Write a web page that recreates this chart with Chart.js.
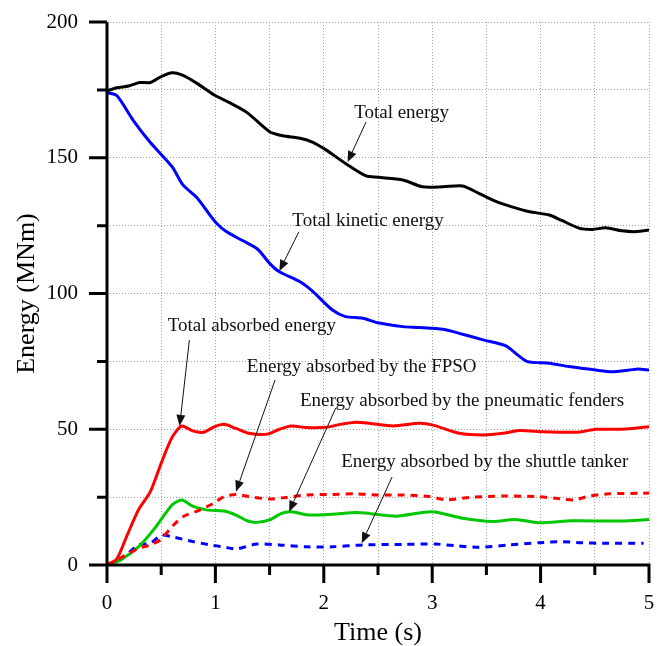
<!DOCTYPE html>
<html>
<head>
<meta charset="utf-8">
<script src="https://cdn.jsdelivr.net/npm/chart.js@4/dist/chart.umd.min.js"></script>
<style>
  body { margin: 0; background: #fff; }
  canvas { display: block; }
</style>
</head>
<body>
<canvas id="myChart" width="662" height="646"></canvas>
<script>
  // time (s) / energy (MNm) for each curve
  const tTotal = [0, 0.09, 0.2, 0.3, 0.4, 0.5, 0.6, 0.69, 0.83, 0.99, 1.13, 1.29, 1.5, 1.62, 1.78, 1.9, 2.02, 2.2, 2.39, 2.5, 2.73, 2.91, 3.1, 3.28, 3.43, 3.56, 3.65, 3.83, 3.9, 4.08, 4.2, 4.36, 4.48, 4.6, 4.75, 4.88, 5];
  const eTotal = [174.6, 175.8, 176.4, 177.7, 177.7, 179.9, 181.3, 180.5, 177.4, 173.1, 170.3, 166.7, 159.6, 158.1, 157.2, 155.7, 152.9, 147.9, 143.3, 142.8, 141.8, 139.3, 139.3, 139.6, 136.9, 134.4, 133, 130.8, 130.1, 128.9, 126.8, 124, 123.6, 124.2, 123.1, 122.8, 123.4];

  const tKinetic = [0, 0.09, 0.24, 0.4, 0.6, 0.7, 0.83, 0.95, 1.01, 1.1, 1.25, 1.39, 1.5, 1.59, 1.78, 1.9, 2.08, 2.2, 2.36, 2.5, 2.73, 2.88, 3.1, 3.28, 3.47, 3.68, 3.79, 3.88, 4.08, 4.26, 4.51, 4.66, 4.82, 4.9, 5];
  const eKinetic = [174, 172.9, 163.9, 155.6, 146.7, 140, 135.3, 128.9, 125.9, 122.8, 119.5, 116.3, 111.1, 108, 104.3, 100.7, 93.9, 91.5, 90.9, 89.2, 87.8, 87.5, 86.8, 85, 82.9, 80.7, 77.3, 74.9, 74.3, 73.1, 71.8, 71.2, 71.8, 72.2, 71.8];

  const tAbsorbed = [0, 0.09, 0.18, 0.29, 0.4, 0.5, 0.6, 0.69, 0.79, 0.89, 0.99, 1.08, 1.19, 1.31, 1.48, 1.59, 1.7, 1.84, 2.02, 2.15, 2.3, 2.42, 2.64, 2.88, 3.0, 3.25, 3.47, 3.65, 3.8, 4.02, 4.29, 4.38, 4.51, 4.75, 5];
  const eAbsorbed = [0, 2.2, 10.4, 20.3, 27, 37.5, 47, 51.2, 49.4, 48.9, 50.9, 51.8, 50.3, 48.5, 48.2, 50, 51.2, 50.6, 50.7, 51.8, 52.6, 52.2, 51.2, 52.2, 51.6, 48.5, 47.9, 48.5, 49.5, 49.1, 48.9, 49.1, 50, 50, 50.9];

  const tFpso = [0, 0.12, 0.29, 0.4, 0.49, 0.6, 0.7, 0.86, 0.99, 1.08, 1.19, 1.31, 1.5, 1.65, 1.84, 2.08, 2.3, 2.5, 2.73, 2.97, 3.13, 3.34, 3.65, 3.96, 4.14, 4.31, 4.45, 4.63, 4.91, 5];
  const eFpso = [0, 2.5, 6.1, 7.4, 9.2, 14.1, 17.8, 20.3, 22.9, 25.2, 26, 25.2, 24.3, 24.9, 25.8, 26, 26.2, 25.8, 25.8, 25.2, 24, 24.9, 25.4, 25.2, 24.6, 24, 25.4, 26.2, 26.4, 26.5];

  const tFenders = [0, 0.12, 0.29, 0.44, 0.6, 0.69, 0.79, 0.92, 1.08, 1.19, 1.3, 1.38, 1.5, 1.61, 1.7, 1.87, 2.08, 2.3, 2.42, 2.67, 3.0, 3.28, 3.56, 3.77, 3.98, 4.29, 4.75, 5];
  const eFenders = [0, 1.8, 6.7, 13.5, 22.1, 23.9, 21.7, 20.3, 19.9, 18.4, 16.2, 15.7, 16.6, 19, 19.6, 18.4, 18.7, 19.3, 19, 18, 19.6, 17.2, 16, 16.8, 15.6, 16.3, 16.2, 16.8];

  const tShuttle = [0, 0.12, 0.29, 0.4, 0.5, 0.6, 0.75, 0.95, 1.07, 1.19, 1.38, 1.59, 1.84, 2.08, 2.36, 2.73, 3.03, 3.22, 3.43, 3.71, 3.99, 4.2, 4.38, 4.57, 4.95];
  const eShuttle = [0, 1.8, 7.4, 8, 11, 10.4, 9, 7.4, 6.7, 5.9, 7.7, 7.4, 6.7, 6.7, 7.4, 7.6, 7.7, 7.1, 6.5, 7.4, 8.2, 8.6, 8.2, 8, 8];

  // labels with arrows: text anchor (left, middle), arrow tail and arrow tip, in data units
  const notes = [
    { text: "Total energy", at: [2.28, 166.5], from: [2.39, 163.2], to: [2.22, 148.4] },
    { text: "Total kinetic energy", at: [1.71, 126.7], from: [1.77, 122.7], to: [1.59, 108.3] },
    { text: "Total absorbed energy", at: [0.56, 88], from: [0.76, 82.9], to: [0.67, 51.2] },
    { text: "Energy absorbed by the FPSO", at: [1.29, 72.9], from: [1.55, 68.1], to: [1.19, 27] },
    { text: "Energy absorbed by the pneumatic fenders", at: [1.78, 60.4], from: [2.11, 57.8], to: [1.68, 19.6] },
    { text: "Energy absorbed by the shuttle tanker", at: [2.16, 37.9], from: [2.63, 32.4], to: [2.35, 8] }
  ];

  const serif = "'Liberation Serif', 'Times New Roman', serif";

  function pts(ts, es) {
    return ts.map(function (t, i) { return { x: t, y: es[i] }; });
  }

  function serie(ts, es, color, dash) {
    return {
      data: pts(ts, es),
      borderColor: color,
      borderWidth: 3,
      borderDash: dash || [],
      pointRadius: 0,
      tension: 0.25,
      fill: false
    };
  }

  // no automatic label room, the layout padding does it
  function semPadding(s) {
    s.paddingTop = 0;
    s.paddingBottom = 0;
    s.paddingLeft = 0;
    s.paddingRight = 0;
  }

  // axis lines with long major / short minor ticks pointing outwards
  const eixos = {
    id: "eixos",
    afterDraw(chart) {
      const ctx = chart.ctx;
      const x = chart.scales.x, y = chart.scales.y;
      const a = chart.chartArea;
      ctx.save();
      ctx.strokeStyle = "#000";
      ctx.lineWidth = 3;
      ctx.beginPath();
      ctx.moveTo(a.left, a.top);
      ctx.lineTo(a.left, a.bottom);
      ctx.moveTo(a.left - 1.5, a.bottom);
      ctx.lineTo(a.right + 1.5, a.bottom);
      for (let v = 0; v <= 5.001; v += 0.5) {
        const px = x.getPixelForValue(v);
        const len = Math.abs(v - Math.round(v)) < 1e-6 ? 18 : 10;
        ctx.moveTo(px, a.bottom);
        ctx.lineTo(px, a.bottom + len);
      }
      for (let v = 0; v <= 200; v += 25) {
        const py = y.getPixelForValue(v);
        const len = v % 50 === 0 ? 18 : 10;
        ctx.moveTo(a.left - len, py);
        ctx.lineTo(a.left, py);
      }
      ctx.stroke();
      ctx.restore();
    }
  };

  const notas = {
    id: "notas",
    afterDatasetsDraw(chart) {
      const ctx = chart.ctx;
      const x = chart.scales.x, y = chart.scales.y;
      ctx.save();
      ctx.font = "19px " + serif;
      ctx.fillStyle = "#111";
      ctx.strokeStyle = "#111";
      ctx.lineWidth = 1;
      ctx.textAlign = "left";
      ctx.textBaseline = "middle";
      notes.forEach(function (n) {
        ctx.fillText(n.text, x.getPixelForValue(n.at[0]), y.getPixelForValue(n.at[1]));
        const x1 = x.getPixelForValue(n.from[0]), y1 = y.getPixelForValue(n.from[1]);
        const x2 = x.getPixelForValue(n.to[0]), y2 = y.getPixelForValue(n.to[1]);
        const ang = Math.atan2(y2 - y1, x2 - x1);
        const hl = 11, hw = 4.5;
        const bx = x2 - hl * Math.cos(ang), by = y2 - hl * Math.sin(ang);
        ctx.beginPath();
        ctx.moveTo(x1, y1);
        ctx.lineTo(bx, by);
        ctx.stroke();
        ctx.beginPath();
        ctx.moveTo(x2, y2);
        ctx.lineTo(bx + hw * Math.sin(ang), by - hw * Math.cos(ang));
        ctx.lineTo(bx - hw * Math.sin(ang), by + hw * Math.cos(ang));
        ctx.closePath();
        ctx.fill();
      });
      ctx.restore();
    }
  };

  const ctx = document.getElementById("myChart");

  new Chart(ctx, {
    type: "line",
    data: {
      datasets: [
        serie(tTotal, eTotal, "#000000"),
        serie(tKinetic, eKinetic, "#0000ff"),
        serie(tAbsorbed, eAbsorbed, "#ff0000"),
        serie(tFpso, eFpso, "#ff0000", [7, 6]),
        serie(tFenders, eFenders, "#00c800"),
        serie(tShuttle, eShuttle, "#0000ff", [7, 6])
      ]
    },
    options: {
      responsive: false,
      animation: false,
      devicePixelRatio: 1,
      layout: { padding: { top: 22, right: 13, left: 0, bottom: 0 } },
      plugins: {
        legend: { display: false },
        tooltip: { enabled: false }
      },
      scales: {
        x: {
          type: "linear",
          min: 0,
          max: 5,
          afterFit(s) { s.height = 81; semPadding(s); },
          grid: { color: "#a0a0a0", lineWidth: 1, drawTicks: false },
          border: { display: false, dash: [1, 2] },
          ticks: {
            stepSize: 0.5,
            autoSkip: false,
            maxRotation: 0,
            padding: 26,
            color: "#000",
            font: { family: serif, size: 21 },
            callback: function (v) { return Number.isInteger(v) ? v : ""; }
          },
          title: {
            display: true,
            text: "Time (s)",
            color: "#000",
            font: { family: serif, size: 26, lineHeight: 1 },
            padding: 0
          }
        },
        y: {
          min: 0,
          max: 200,
          afterFit(s) { s.width = 107; semPadding(s); },
          grid: { color: "#a0a0a0", lineWidth: 1, drawTicks: false },
          border: { display: false, dash: [1, 2] },
          ticks: {
            stepSize: 25,
            autoSkip: false,
            padding: 29,
            color: "#000",
            font: { family: serif, size: 21 },
            callback: function (v) { return v % 50 === 0 ? v : ""; }
          },
          title: {
            display: true,
            text: "Energy (MNm)",
            color: "#000",
            font: { family: serif, size: 26, lineHeight: 1 },
            padding: 14
          }
        }
      }
    },
    plugins: [notas, eixos]
  });
</script>
</body>
</html>
